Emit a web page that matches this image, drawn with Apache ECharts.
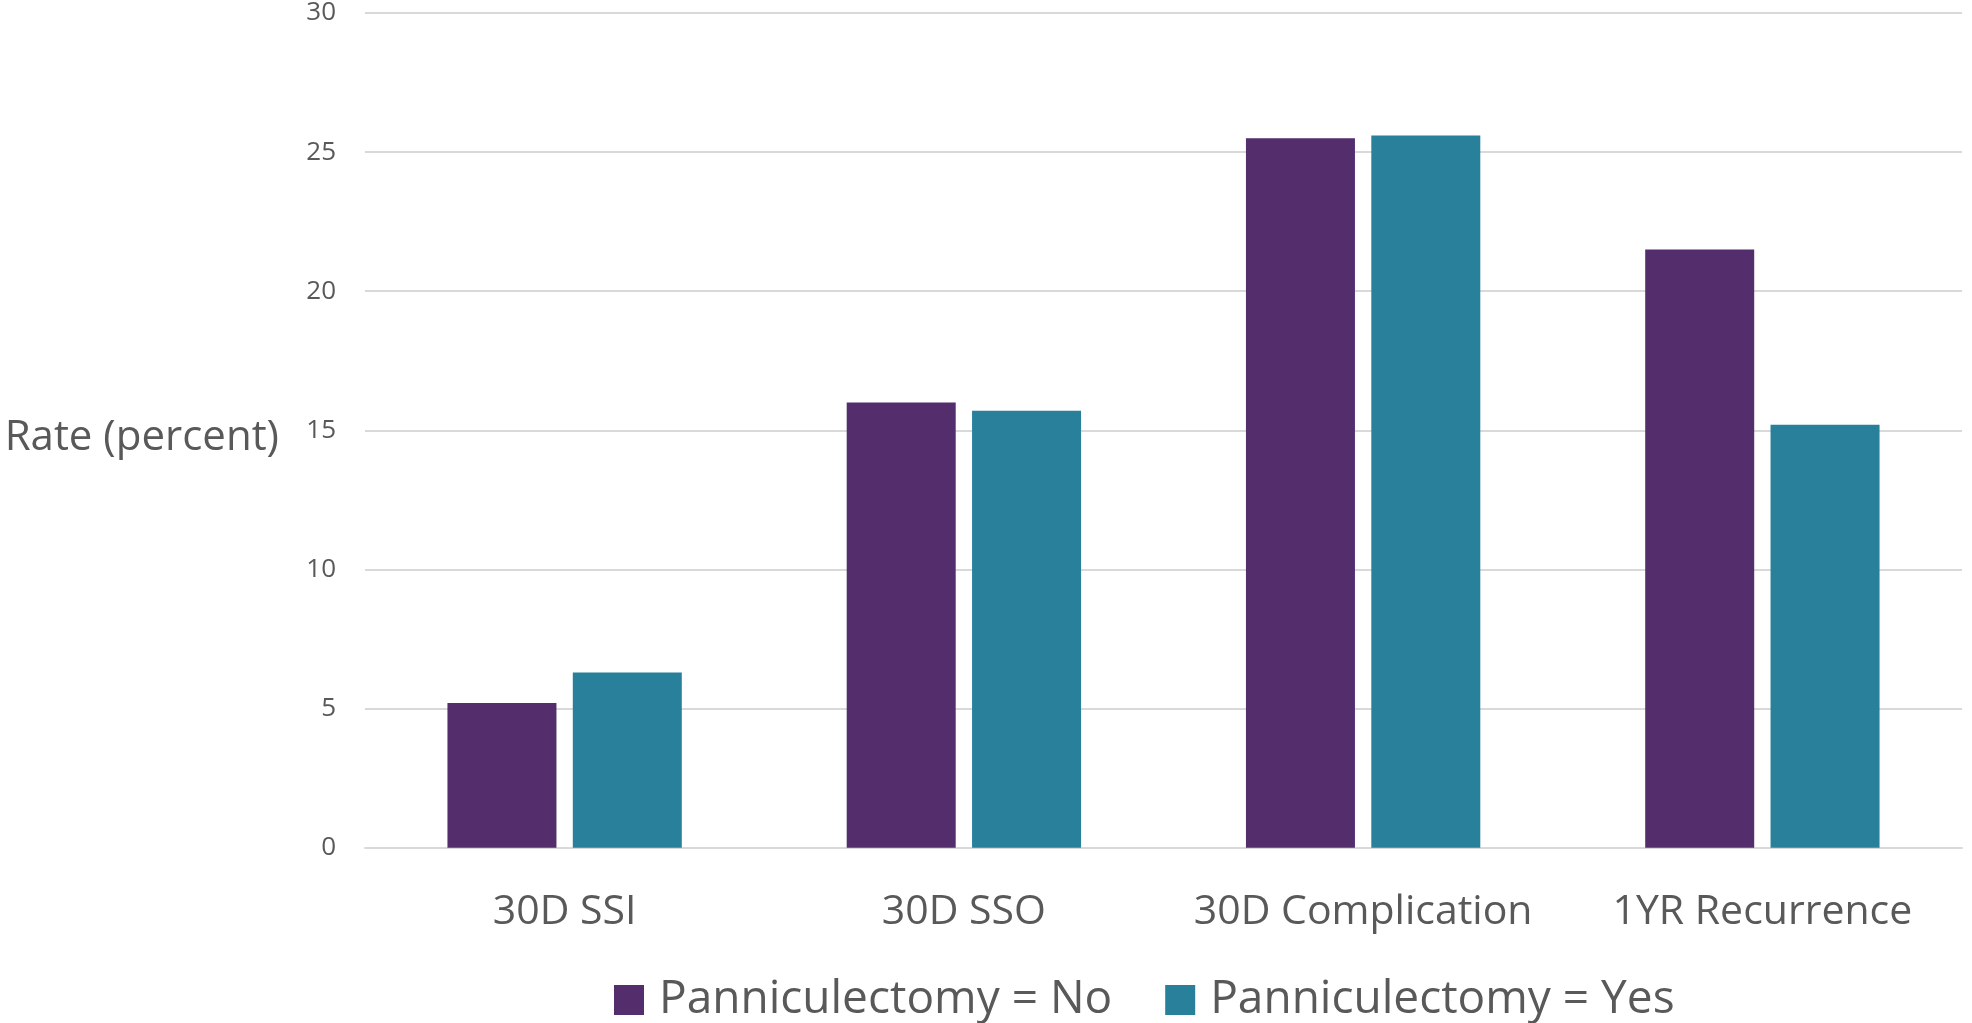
<!DOCTYPE html>
<html>
<head>
<meta charset="utf-8">
<script src="https://cdn.jsdelivr.net/npm/echarts@6/dist/echarts.min.js"></script>
<style>
html,body{margin:0;padding:0;background:#fff;}
#chart{width:1972px;height:1023px;}
</style>
</head>
<body>
<div id="chart"></div>
<script>
const categories = ['30D SSI', '30D SSO', '30D Complication', '1YR Recurrence'];
const seriesNames = ['Panniculectomy = No', 'Panniculectomy = Yes'];
const valuesNo = [5.2, 16.0, 25.5, 21.5];
const valuesYes = [6.3, 15.7, 25.6, 15.2];
const yTicks = [0, 5, 10, 15, 20, 25, 30];
const yTitle = 'Rate (percent)';

const FONT = '"Open Sans", sans-serif';
const GRAY = '#595959';

const chart = echarts.init(document.getElementById('chart'));
chart.setOption({
  animation: false,
  backgroundColor: '#ffffff',
  textStyle: { fontFamily: FONT, color: GRAY },
  title: {
    text: yTitle,
    right: 1693,
    top: 417,
    padding: 0,
    textStyle: { fontFamily: FONT, fontSize: 42, fontWeight: 'normal', color: GRAY, lineHeight: 42 }
  },
  grid: { left: 365, right: 10, top: 12.6, bottom: 175.3, containLabel: false },
  legend: {
    data: seriesNames,
    left: 614,
    top: 977,
    padding: 0,
    itemGap: 53,
    itemWidth: 30,
    itemHeight: 30,
    icon: 'rect',
    textStyle: { fontFamily: FONT, fontSize: 46, color: GRAY, lineHeight: 46, padding: [0, 0, 0, 10] }
  },
  xAxis: {
    type: 'category',
    data: categories,
    axisLine: { show: true, lineStyle: { color: '#D9D9D9', width: 2 } },
    axisTick: { show: false },
    axisLabel: { fontFamily: FONT, fontSize: 41, color: GRAY, margin: 44, interval: 0 }
  },
  yAxis: {
    type: 'value',
    min: yTicks[0],
    max: yTicks[yTicks.length - 1],
    interval: 5,
    axisLine: { show: false },
    axisTick: { show: false },
    axisLabel: { fontFamily: FONT, fontSize: 26, color: GRAY, margin: 29 },
    splitLine: { show: true, lineStyle: { color: '#D9D9D9', width: 2 } }
  },
  series: [
    {
      name: seriesNames[0],
      type: 'bar',
      data: valuesNo,
      barWidth: 109,
      barGap: '15%',
      itemStyle: { color: '#532D6C' }
    },
    {
      name: seriesNames[1],
      type: 'bar',
      data: valuesYes,
      barWidth: 109,
      barGap: '15%',
      itemStyle: { color: '#29809B' }
    }
  ]
});
</script>
</body>
</html>
